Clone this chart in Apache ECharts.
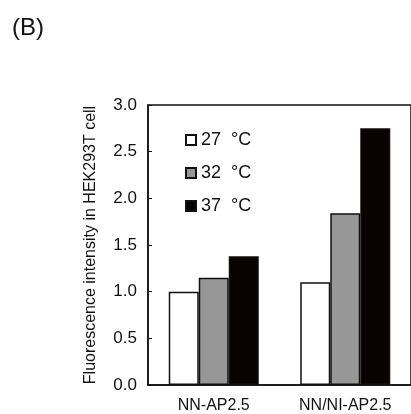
<!DOCTYPE html>
<html><head><meta charset="utf-8">
<script src="https://cdn.jsdelivr.net/npm/echarts@6/dist/echarts.min.js"></script>
<style>html,body{margin:0;padding:0;background:#fff}#c{width:411px;height:414px}</style>
</head><body><div id="c"></div>
<script>
const categories = ['NN-AP2.5', 'NN/NI-AP2.5'];
const seriesNames = ['27  \u00B0C', '32  \u00B0C', '37  \u00B0C'];
const v27 = [1.00, 1.10];
const v32 = [1.15, 1.84];
const v37 = [1.38, 2.75];
const yTicks = [0, 0.5, 1.0, 1.5, 2.0, 2.5, 3.0];

const fills = ['#ffffff', '#979797', '#070303'];
const values = [v27, v32, v37];
const font = 'Liberation Sans, Arial, sans-serif';

const chart = echarts.init(document.getElementById('c'));
chart.setOption({
  animation: false,
  backgroundColor: '#fff',
  title: { text: '(B)', left: 7, top: 11, textStyle: { fontFamily: font, fontSize: 24, fontWeight: 'normal', color: '#111' } },
  grid: { left: 148, right: 0, top: 105, bottom: 29, show: true, borderColor: '#111', borderWidth: 1.5 },
  legend: {
    orient: 'vertical', left: 180, top: 126, itemWidth: 10, itemHeight: 10, itemGap: 15,
    icon: 'rect',
    textStyle: { fontFamily: font, fontSize: 18, color: '#111' },
    data: seriesNames
  },
  xAxis: {
    type: 'category', data: categories,
    axisLine: { lineStyle: { color: '#111', width: 1.5 } },
    axisTick: { inside: true, length: 3, lineStyle: { color: '#111' } },
    axisLabel: { fontFamily: font, fontSize: 16, color: '#111', margin: 13 }
  },
  yAxis: {
    type: 'value', min: yTicks[0], max: yTicks[yTicks.length - 1], interval: 0.5,
    name: 'Fluorescence intensity in HEK293T cell', nameLocation: 'middle', nameGap: 49,
    nameTextStyle: { fontFamily: font, fontSize: 16, color: '#111' },
    axisLine: { show: true, lineStyle: { color: '#111', width: 1.5 } },
    axisTick: { show: true, inside: true, length: 4, lineStyle: { color: '#111' } },
    splitLine: { show: false },
    axisLabel: { fontFamily: font, fontSize: 17, color: '#111', margin: 11, formatter: v => v.toFixed(1) }
  },
  series: seriesNames.map((n, i) => ({
    name: n, type: 'bar', data: values[i], barWidth: 30, barGap: '0%',
    itemStyle: { color: fills[i], borderColor: '#111', borderWidth: 1.5 }
  }))
});
</script></body></html>
